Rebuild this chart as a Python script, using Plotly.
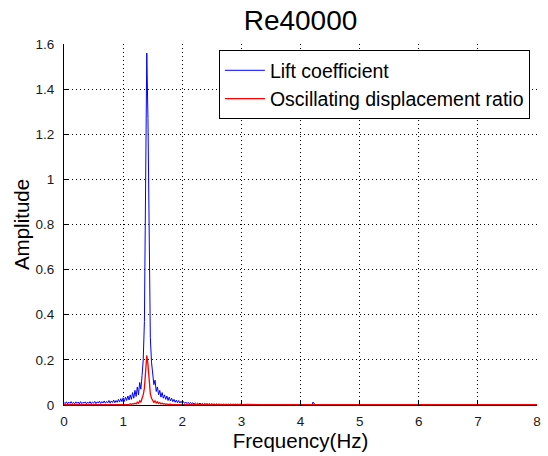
import numpy as np
import plotly.graph_objects as go

# FFT bin spacing of the dense part of the spectrum (Hz)
df = 0.02
freq_dense = np.round(np.arange(0.0, 3.0 + df / 2, df), 2)

# Lift coefficient amplitude, bins 0.00 .. 3.00 Hz
lift_dense = [
    0.012, 0.006, 0.014, 0.005, 0.013, 0.007, 0.015, 0.006, 0.012, 0.005,  # 0.00-0.18
    0.014, 0.007, 0.013, 0.005, 0.015, 0.006, 0.012, 0.008, 0.014, 0.005,  # 0.20-0.38
    0.013, 0.007, 0.015, 0.006, 0.013, 0.008, 0.016, 0.006, 0.014, 0.009,  # 0.40-0.58
    0.017, 0.007, 0.015, 0.009, 0.018, 0.008, 0.016, 0.010, 0.020, 0.008,  # 0.60-0.78
    0.018, 0.011, 0.022, 0.010, 0.020, 0.012, 0.025, 0.013, 0.028, 0.015,  # 0.80-0.98
    0.032, 0.016, 0.035, 0.020, 0.040, 0.022, 0.045, 0.025, 0.055, 0.030,  # 1.00-1.18
    0.065, 0.038, 0.080, 0.045, 0.100, 0.070, 0.130, 0.200, 0.370, 0.920,  # 1.20-1.38
    1.560, 1.270, 0.620, 0.300, 0.190, 0.150, 0.090, 0.110, 0.060, 0.080,  # 1.40-1.58
    0.045, 0.065, 0.035, 0.055, 0.030, 0.045, 0.025, 0.040, 0.020, 0.035,  # 1.60-1.78
    0.018, 0.030, 0.015, 0.025, 0.012, 0.022, 0.010, 0.020, 0.009, 0.017,  # 1.80-1.98
    0.008, 0.015, 0.007, 0.013, 0.006, 0.012, 0.005, 0.011, 0.005, 0.010,  # 2.00-2.18
    0.004, 0.009, 0.004, 0.008, 0.004, 0.008, 0.003, 0.007, 0.003, 0.007,  # 2.20-2.38
    0.003, 0.006, 0.003, 0.006, 0.002, 0.006, 0.002, 0.005, 0.002, 0.005,  # 2.40-2.58
    0.002, 0.005, 0.002, 0.004, 0.002, 0.004, 0.002, 0.004, 0.002, 0.004,  # 2.60-2.78
    0.002, 0.004, 0.002, 0.004, 0.002, 0.004, 0.002, 0.004, 0.002, 0.004,  # 2.80-2.98
    0.002,                                                                 # 3.00
]

# Oscillating displacement ratio amplitude, bins 0.00 .. 3.00 Hz
disp_dense = [
    0.001, 0.001, 0.001, 0.001, 0.001, 0.001, 0.001, 0.001, 0.001, 0.001,  # 0.00-0.18
    0.001, 0.001, 0.001, 0.001, 0.001, 0.001, 0.001, 0.001, 0.001, 0.001,  # 0.20-0.38
    0.001, 0.001, 0.001, 0.001, 0.001, 0.001, 0.001, 0.001, 0.001, 0.001,  # 0.40-0.58
    0.001, 0.001, 0.001, 0.001, 0.001, 0.001, 0.001, 0.001, 0.001, 0.001,  # 0.60-0.78
    0.001, 0.001, 0.001, 0.001, 0.001, 0.001, 0.002, 0.001, 0.002, 0.001,  # 0.80-0.98
    0.002, 0.002, 0.003, 0.002, 0.004, 0.003, 0.005, 0.003, 0.006, 0.004,  # 1.00-1.18
    0.008, 0.005, 0.012, 0.008, 0.018, 0.012, 0.030, 0.045, 0.075, 0.130,  # 1.20-1.38
    0.220, 0.180, 0.100, 0.050, 0.030, 0.020, 0.012, 0.018, 0.009, 0.014,  # 1.40-1.58
    0.007, 0.011, 0.005, 0.008, 0.004, 0.006, 0.003, 0.005, 0.002, 0.004,  # 1.60-1.78
    0.002, 0.003, 0.002, 0.003, 0.001, 0.002, 0.001, 0.002, 0.001, 0.001,  # 1.80-1.98
    0.001, 0.001, 0.001, 0.001, 0.001, 0.001, 0.001, 0.001, 0.001, 0.001,  # 2.00-2.18
    0.001, 0.001, 0.001, 0.001, 0.001, 0.001, 0.001, 0.001, 0.001, 0.001,  # 2.20-2.38
    0.001, 0.001, 0.001, 0.001, 0.001, 0.001, 0.001, 0.001, 0.001, 0.001,  # 2.40-2.58
    0.001, 0.001, 0.001, 0.001, 0.001, 0.001, 0.001, 0.001, 0.001, 0.001,  # 2.60-2.78
    0.001, 0.001, 0.001, 0.001, 0.001, 0.001, 0.001, 0.001, 0.001, 0.001,  # 2.80-2.98
    0.001,                                                                 # 3.00
]

# Sparse high-frequency tail (3.1 .. 8 Hz)
freq_tail = [3.1, 3.2, 3.3, 3.4, 3.5, 3.6, 3.8, 4.0, 4.2, 4.21, 4.23, 4.25,
             4.4, 4.6, 5.0, 6.0, 7.0, 8.0]
lift_tail = [0.003, 0.002, 0.003, 0.002, 0.002, 0.001, 0.001, 0.001, 0.001,
             0.013, 0.006, 0.001, 0.001, 0.001, 0.001, 0.001, 0.001, 0.001]
disp_tail = [0.001] * len(freq_tail)

freq = list(freq_dense) + freq_tail
lift = lift_dense + lift_tail
disp = disp_dense + disp_tail

x_ticks = [0, 1, 2, 3, 4, 5, 6, 7, 8]
y_ticks = [0, 0.2, 0.4, 0.6, 0.8, 1.0, 1.2, 1.4, 1.6]

FONT = "Liberation Sans, Arial, Helvetica, sans-serif"

fig = go.Figure()
fig.add_trace(go.Scatter(x=freq, y=lift, mode="lines", name="Lift coefficient",
                         line=dict(color="#0000ff", width=1)))
fig.add_trace(go.Scatter(x=freq, y=disp, mode="lines",
                         name="Oscillating displacement ratio",
                         line=dict(color="#ff0000", width=1.3)))

axis_common = dict(
    automargin=False,
    showline=True, linecolor="#000000", linewidth=1, mirror=False,
    ticks="inside", ticklen=5, tickcolor="#000000", tickwidth=1,
    showgrid=True, gridcolor="#000000", gridwidth=1, griddash="1px,3px",
    zeroline=False, tickfont=dict(family=FONT, size=13.5, color="#1a1a1a"),
)

fig.update_layout(
    width=548, height=456,
    margin=dict(l=64, r=11, t=44, b=51),
    paper_bgcolor="#ffffff", plot_bgcolor="#ffffff",
    font=dict(family=FONT, color="#000000"),
    title=dict(text="Re40000", x=0.5, xref="paper", xanchor="center",
               y=1 - 20 / 456, yref="container", yanchor="middle",
               font=dict(family=FONT, size=28, color="#000000")),
    xaxis=dict(range=[0, 8], tickvals=x_ticks, ticklabelstandoff=4,
               title=dict(text="Frequency(Hz)", standoff=4,
                          font=dict(family=FONT, size=20.5)),
               **axis_common),
    yaxis=dict(range=[0, 1.6], tickvals=y_ticks, ticklabelstandoff=6,
               title=dict(text="Amplitude", standoff=0,
                          font=dict(family=FONT, size=20.5)),
               **axis_common),
    legend=dict(x=0.985, xanchor="right", y=0.983, yanchor="top",
                bgcolor="#ffffff", bordercolor="#000000", borderwidth=1,
                font=dict(family=FONT, size=19.5, color="#000000"),
                tracegroupgap=0, itemwidth=40),
    showlegend=True,
)

fig.write_html("out.html")
